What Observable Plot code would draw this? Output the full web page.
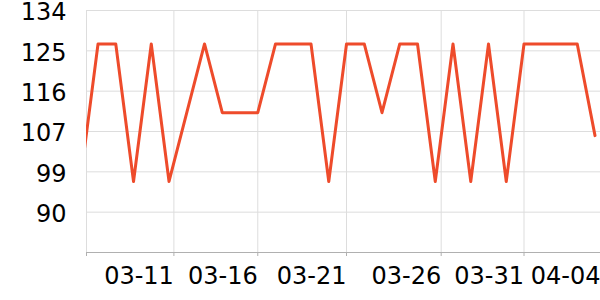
<!DOCTYPE html>
<html><head><meta charset="utf-8">
<script src="https://cdn.jsdelivr.net/npm/d3@7"></script>
<script src="https://cdn.jsdelivr.net/npm/@observablehq/plot@0.6"></script>
<style>html,body{margin:0;padding:0;background:#fff} #chart svg{display:block}</style>
</head><body><div id="chart"></div>
<script>
// Data
const dates = [
  "2024-03-06","2024-03-07","2024-03-08","2024-03-09","2024-03-10","2024-03-11",
  "2024-03-12","2024-03-13","2024-03-14","2024-03-15","2024-03-16","2024-03-17",
  "2024-03-18","2024-03-19","2024-03-20","2024-03-21","2024-03-22","2024-03-23",
  "2024-03-24","2024-03-25","2024-03-26","2024-03-27","2024-03-28","2024-03-29",
  "2024-03-30","2024-03-31","2024-04-01","2024-04-02","2024-04-03","2024-04-04"
];
const values = [
  97, 127, 127, 97, 127, 97,
  112, 127, 112, 112, 112, 127,
  127, 127, 97, 127, 127, 112,
  127, 127, 97, 127, 97, 127,
  97, 127, 127, 127, 127, 107
];
// Axis settings
const xStart = "2024-03-06T08:25Z";
const xEnd = "2024-04-04T07:26Z";
const xTickDates = ["2024-03-11T06:36Z","2024-03-16","2024-03-21","2024-03-26T08:00Z","2024-03-31","2024-04-04T07:26Z"];
const yTicks = [90.3, 99.1, 107.9, 116.7, 125.5, 134.3];
const yMin = 81.5;
const yMax = 134.3;

const data = dates.map((d, i) => ({date: new Date(d), value: values[i]}));
const xDomain = [new Date(xStart), new Date(xEnd)];
const tickDates = xTickDates.map(d => new Date(d));
const gridX = [xDomain[0], ...tickDates.slice(0, -1)];
const fmt = d3.utcFormat("%m-%d");

const chart = Plot.plot({
  width: 600,
  height: 300,
  marginLeft: 86,
  marginRight: 0,
  marginTop: 10,
  marginBottom: 48,
  style: {fontFamily: "DejaVu Sans", fontSize: "24px", color: "#000", background: "#fff"},
  x: {type: "utc", domain: xDomain},
  y: {domain: [yMin, yMax]},
  marks: [
    Plot.ruleY(yTicks, {stroke: "#dddddd", strokeWidth: 1}),
    Plot.ruleX(gridX, {stroke: "#dddddd", strokeWidth: 1}),
    Plot.ruleY([yMin], {stroke: "#b0b0b0", strokeWidth: 1}),
    Plot.axisX({ticks: gridX, tickSize: 4, tickFormat: () => "", stroke: "#b0b0b0", label: null}),
    Plot.axisX({ticks: tickDates, tickSize: 0, tickPadding: 14, tickFormat: fmt, textAnchor: "end", fontSize: 24, fill: "#000", label: null}),
    Plot.axisY({ticks: yTicks, tickSize: 0, tickPadding: 20, tickFormat: d => Math.floor(d), fontSize: 24, fill: "#000", dy: 2, label: null}),
    Plot.line(data, {x: "date", y: "value", stroke: "#ee4b2b", strokeWidth: 3, clip: true})
  ]
});
document.getElementById("chart").appendChild(chart);
</script>
</body></html>
